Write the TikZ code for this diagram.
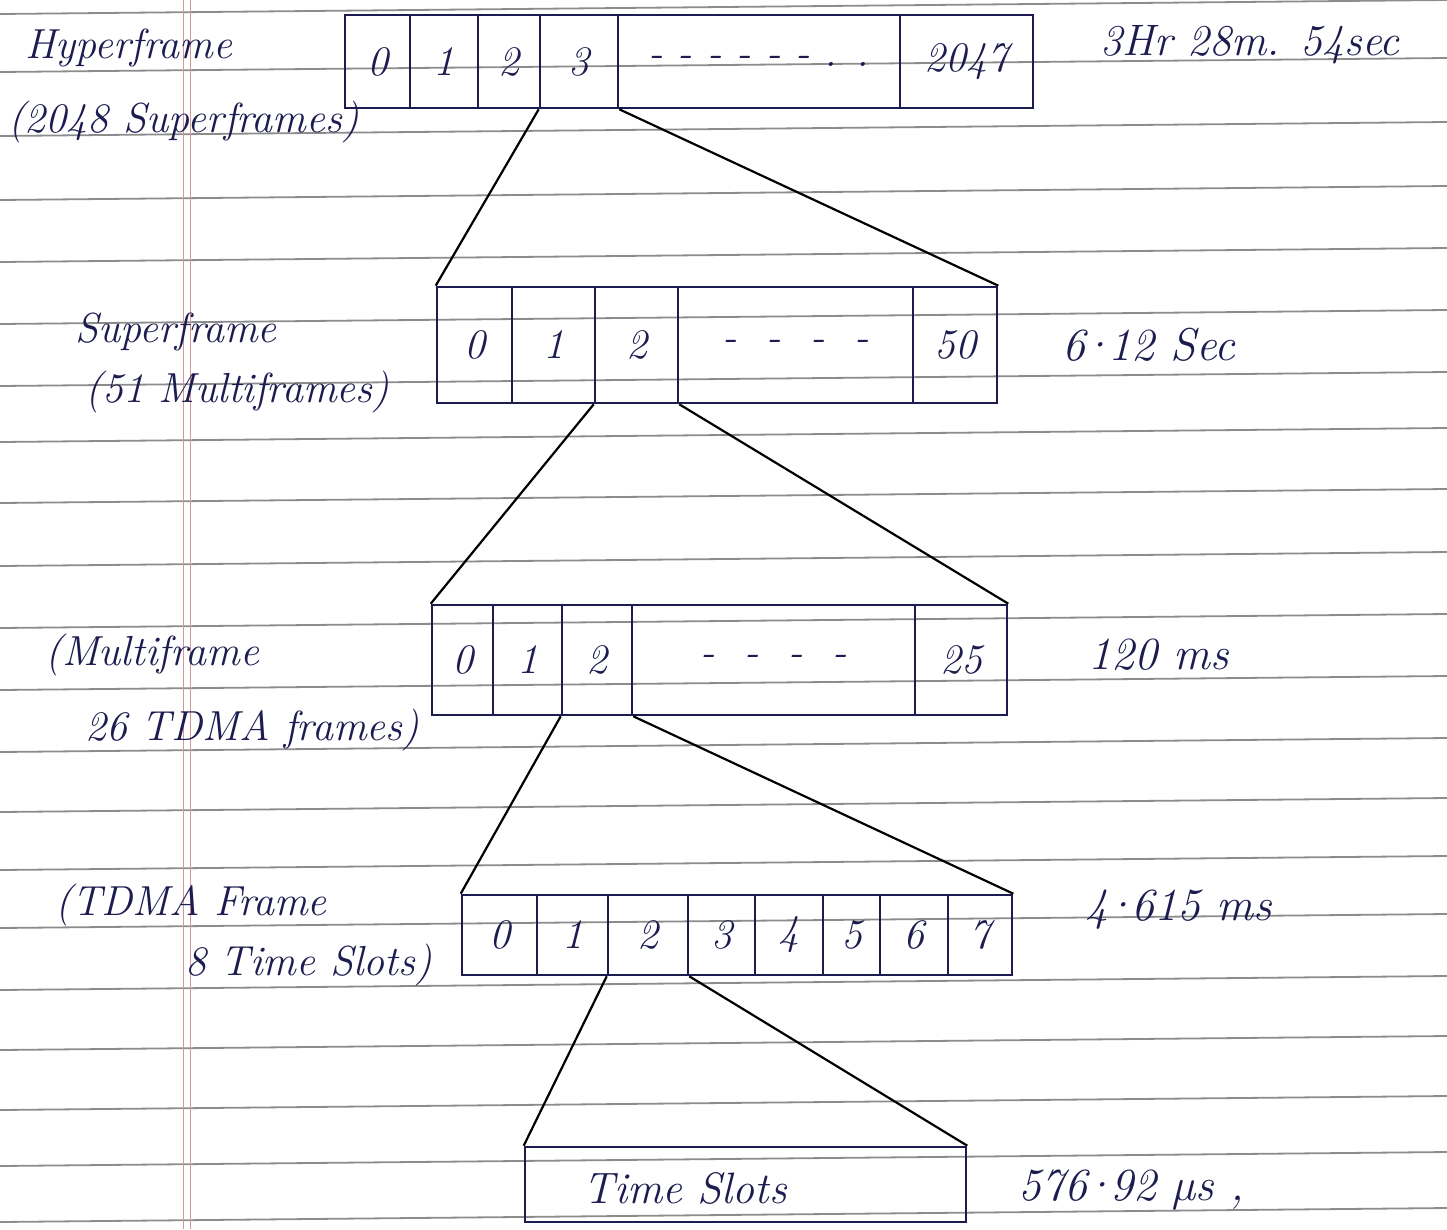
\documentclass[tikz,border=0pt]{standalone}
\usepackage{fontspec}
\begin{document}
\definecolor{inkc}{RGB}{28,28,80}
\definecolor{rulec}{RGB}{140,140,140}
\definecolor{marginc}{RGB}{215,150,150}
\newcommand{\mdot}{\kern-0.12em·\kern-0.12em}
\begin{tikzpicture}[x=1pt,y=-1pt,
  cell/.style={draw=inkc, line width=2.6pt, inner sep=0pt, text=inkc,
    font=\fontsize{42}{48}\selectfont\itshape},
  lab/.style={text=inkc, inner sep=0pt, anchor=west,
    font=\fontsize{42}{48}\selectfont\itshape},
  dur/.style={lab, font=\fontsize{46}{52}\selectfont\itshape},
  conn/.style={draw=black, line width=2.2pt},
  ruling/.style={draw=rulec, line width=1.8pt},
  margin/.style={draw=marginc, line width=0.9pt}]
\useasboundingbox (0,0) rectangle (1447,1229);
\fill[white] (0,0) rectangle (1447,1229);
% notebook ruling
\foreach \yy in {14,72,136,200,262,324,386,442,503,566,628,690,752,812,870,928,990,1050,1110,1166,1222}
  \draw[ruling] (0,\yy) -- (1447,\yy-14);
\draw[margin] (183,0) -- (183,1229);
\draw[margin] (190,0) -- (190,1229);

% Hyperframe
\node[cell, minimum width=65pt,  minimum height=93pt] (h0) at (377.5,61.5) {0};
\node[cell, minimum width=68pt,  minimum height=93pt] (h1) at (444,61.5) {1};
\node[cell, minimum width=62pt,  minimum height=93pt] (h2) at (509,61.5) {2};
\node[cell, minimum width=78pt,  minimum height=93pt] (h3) at (579,61.5) {3};
\node[cell, minimum width=282pt, minimum height=93pt] (hd) at (759,61.5) {-\ -\ -\ -\ -\ -\ . .};
\node[cell, minimum width=133pt, minimum height=93pt] (h2047) at (966.5,61.5) {2047};
\node[lab] (hl1) at (25,48) {Hyperframe};
\node[lab] (hl2) at (8,122) {(2048 Superframes)};
\node[dur, font=\fontsize{44}{50}\selectfont\itshape] (ht) at (1100,45) {3Hr 28m. 54sec};

% Superframe
\node[cell, minimum width=75pt,  minimum height=116pt] (s0) at (474.5,345) {0};
\node[cell, minimum width=83pt,  minimum height=116pt] (s1) at (553.5,345) {1};
\node[cell, minimum width=83pt,  minimum height=116pt] (s2) at (636.5,345) {2};
\node[cell, minimum width=235pt, minimum height=116pt] (sd) at (795.5,345) {-\ \ -\ \ -\ \ -};
\node[cell, minimum width=84pt,  minimum height=116pt] (s50) at (955,345) {50};
\node[lab] (sl1) at (75,332) {Superframe};
\node[lab] (sl2) at (85,392) {(51 Multiframes)};
\node[dur] (st) at (1062,345) {6\mdot 12 Sec};

% Multiframe
\node[cell, minimum width=61pt,  minimum height=110pt] (m0) at (462.5,660) {0};
\node[cell, minimum width=69pt,  minimum height=110pt] (m1) at (527.5,660) {1};
\node[cell, minimum width=70pt,  minimum height=110pt] (m2) at (597,660) {2};
\node[cell, minimum width=283pt, minimum height=110pt] (md) at (773.5,660) {-\ \ -\ \ -\ \ -};
\node[cell, minimum width=92pt,  minimum height=110pt] (m25) at (961,660) {25};
\node[lab] (ml1) at (45,655) {(Multiframe};
\node[lab] (ml2) at (85,730) {26 TDMA frames)};
\node[dur] (mt) at (1088,655) {120 ms};

% TDMA frame
\node[cell, minimum width=75pt, minimum height=80pt] (t0) at (499.5,935) {0};
\node[cell, minimum width=71pt, minimum height=80pt] (t1) at (572.5,935) {1};
\node[cell, minimum width=80pt, minimum height=80pt] (t2) at (648,935) {2};
\node[cell, minimum width=67pt, minimum height=80pt] (t3) at (721.5,935) {3};
\node[cell, minimum width=68pt, minimum height=80pt] (t4) at (789,935) {4};
\node[cell, minimum width=57pt, minimum height=80pt] (t5) at (851.5,935) {5};
\node[cell, minimum width=68pt, minimum height=80pt] (t6) at (914,935) {6};
\node[cell, minimum width=64pt, minimum height=80pt] (t7) at (980,935) {7};
\node[lab] (tl1) at (55,905) {(TDMA Frame};
\node[lab] (tl2) at (185,965) {8 Time Slots)};
\node[dur] (tt) at (1085,910) {4\mdot 615 ms};

% Time slot
\node[cell, minimum width=441pt, minimum height=75pt] (ts) at (745.5,1184.5) {};
\node[lab, anchor=center, font=\fontsize{44}{50}\selectfont\itshape] (tsl) at (685,1188) {Time Slots};
\node[dur] (tst) at (1018,1190) {576\mdot 92 \textmu s ,};

% connectors
\draw[conn] (h3.south west) -- (s0.north west);
\draw[conn] (h3.south east) -- (s50.north east);
\draw[conn] (s2.south west) -- (m0.north west);
\draw[conn] (s2.south east) -- (m25.north east);
\draw[conn] (m2.south west) -- (t0.north west);
\draw[conn] (m2.south east) -- (t7.north east);
\draw[conn] (t2.south west) -- (ts.north west);
\draw[conn] (t2.south east) -- (ts.north east);
\end{tikzpicture}
\end{document}
